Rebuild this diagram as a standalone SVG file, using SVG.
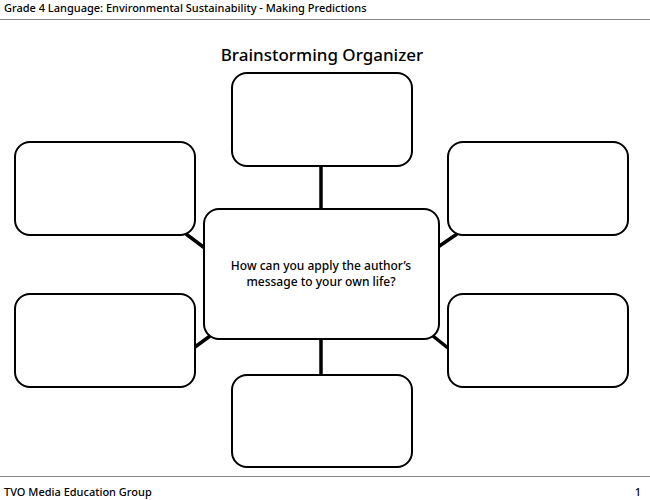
<svg xmlns="http://www.w3.org/2000/svg" width="650" height="500" viewBox="0 0 650 500">
<style>
.box{fill:#fff;stroke:#000;stroke-width:2}
.con{stroke:#000;stroke-width:3.5;fill:none}
text{font-family:"Noto Sans","Liberation Sans",sans-serif;fill:#000}
.hdr{font-size:11px;font-weight:500}
</style>
<rect width="650" height="500" fill="#fff"/>
<text class="hdr" x="4" y="12">Grade 4 Language: Environmental Sustainability - Making Predictions</text>
<line x1="0" y1="19.5" x2="650" y2="19.5" stroke="#888" stroke-width="1.2"/>
<line x1="0" y1="476.5" x2="650" y2="476.5" stroke="#888" stroke-width="1.2"/>
<text class="hdr" x="4" y="496">TVO Media Education Group</text>
<text class="hdr" x="641" y="496" text-anchor="end">1</text>
<text x="322" y="61" text-anchor="middle" font-size="17" font-weight="500">Brainstorming Organizer</text>
<g id="connectors">
<line class="con" x1="321" y1="166" x2="321" y2="210"/>
<line class="con" x1="321" y1="338" x2="321" y2="376"/>
<line class="con" x1="186" y1="234" x2="206" y2="249"/>
<line class="con" x1="195" y1="347" x2="210" y2="336"/>
<line class="con" x1="438" y1="247" x2="457" y2="234"/>
<line class="con" x1="433" y1="336" x2="448" y2="348"/>
</g>
<g id="top"><rect class="box" x="232" y="73" width="180" height="93" rx="15"/></g>
<g id="upper-left"><rect class="box" x="15" y="142" width="180" height="93" rx="15"/></g>
<g id="upper-right"><rect class="box" x="448" y="142" width="180" height="93" rx="15"/></g>
<g id="lower-left"><rect class="box" x="15" y="294" width="180" height="93" rx="15"/></g>
<g id="lower-right"><rect class="box" x="448" y="294" width="180" height="93" rx="15"/></g>
<g id="bottom"><rect class="box" x="232" y="375" width="180" height="92" rx="15"/></g>
<g id="center"><rect class="box" x="204" y="209" width="235" height="130" rx="15"/>
<text x="321" y="270" text-anchor="middle" font-size="12" font-weight="500">How can you apply the author’s</text>
<text x="321" y="286" text-anchor="middle" font-size="12" font-weight="500">message to your own life?</text></g>
</svg>
